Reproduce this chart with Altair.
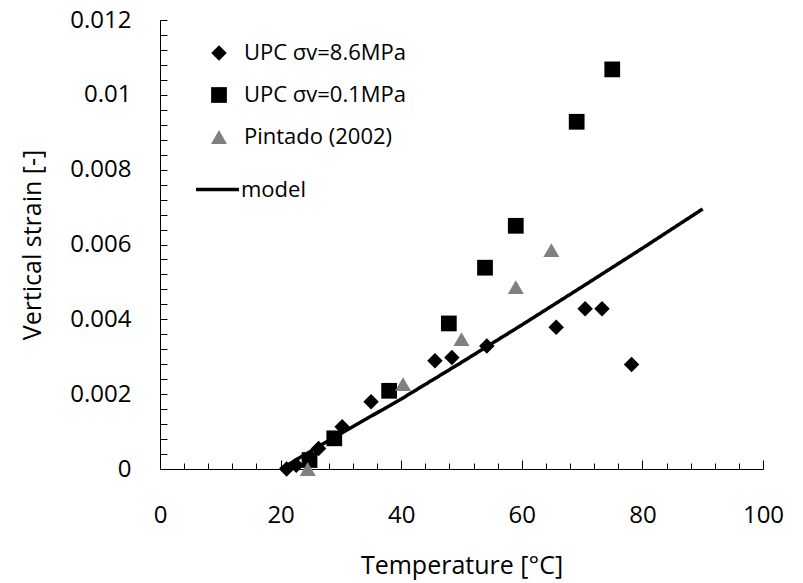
import altair as alt
import pandas as pd

# ---- data ----
diamond_T = [21.0, 22.6, 26.3, 30.2, 35.0, 45.6, 48.4, 54.2, 65.7, 70.5, 73.3, 78.2]
diamond_S = [0.0, 0.0001, 0.00055, 0.00113, 0.0018, 0.00289, 0.00298, 0.00329, 0.00379, 0.00428, 0.00428, 0.00279]

square_T = [24.8, 28.9, 38.0, 47.9, 53.9, 59.0, 69.1, 75.0]
square_S = [0.00024, 0.00082, 0.00209, 0.00389, 0.00538, 0.0065, 0.00928, 0.01068]

tri_T = [24.5, 40.3, 50.0, 59.0, 64.9]
tri_S = [0.0, 0.00227, 0.00347, 0.00486, 0.00585]

model_T = [20, 30, 40, 50, 60, 70, 80, 90]
model_S = [0.0, 0.00095, 0.00187, 0.00285, 0.00385, 0.00487, 0.0059, 0.00695]

series_names = ["UPC σv=8.6MPa", "UPC σv=0.1MPa", "Pintado (2002)"]
x_label_values = [0, 20, 40, 60, 80, 100]
y_label_values = [0, 0.002, 0.004, 0.006, 0.008, 0.01, 0.012]
x_tick_values = list(range(0, 101, 4))
y_tick_values = [round(0.0004 * i, 4) for i in range(31)]

rows = []
for name, ts, ss in zip(series_names, [diamond_T, square_T, tri_T], [diamond_S, square_S, tri_S]):
    for t, s in zip(ts, ss):
        rows.append({"T": t, "S": s, "series": name})
pts = pd.DataFrame(rows)
line_df = pd.DataFrame({"T": model_T, "S": model_S, "series": ["model"] * len(model_T)})

W, H = 603, 449
FONT = "Open Sans"

xscale = alt.Scale(domain=[0, 100], nice=False, zero=False)
yscale = alt.Scale(domain=[0, 0.012], nice=False, zero=False)

line = alt.Chart(line_df).mark_line(color="black", strokeWidth=3.5, clip=False).encode(
    x=alt.X("T:Q", scale=xscale, axis=alt.Axis(
        orient="top", offset=-H, values=x_tick_values, labels=False, title=None,
        grid=False, domain=True, domainColor="black", domainWidth=1,
        ticks=True, tickColor="black", tickWidth=1,
        tickSize={"condition": {"test": "datum.value % 20 === 0", "value": 9}, "value": 6})),
    y=alt.Y("S:Q", scale=yscale, axis=alt.Axis(
        orient="right", offset=-W, values=y_tick_values, labels=False, title=None,
        grid=False, domain=True, domainColor="black", domainWidth=1,
        ticks=True, tickColor="black", tickWidth=1, tickSize=7)),
    strokeDash=alt.StrokeDash("series:N", scale=alt.Scale(domain=["model"], range=[[1, 0]]),
        legend=alt.Legend(orient="none", legendX=34, legendY=146, title=None,
                          symbolType="stroke", symbolStrokeWidth=3.5, symbolStrokeColor="black",
                          symbolSize=1849, labelOffset=0, labelFont=FONT, labelFontSize=22,
                          labelColor="black", labelLimit=400, padding=0)),
)

legend_pts = alt.Legend(orient="none", legendX=48, legendY=22, title=None,
                        symbolSize=240, symbolStrokeWidth=0, labelOffset=14,
                        labelFont=FONT, labelFontSize=22, labelColor="black", labelLimit=400,
                        rowPadding=20, padding=0)

points = alt.Chart(pts).mark_point(filled=True, opacity=1, clip=False).encode(
    x=alt.X("T:Q", scale=xscale, axis=alt.Axis(
        values=x_label_values, ticks=False, tickSize=0, domain=False, grid=False,
        labelPadding=46, labelBaseline="middle", labelFont=FONT, labelFontSize=24,
        labelColor="black", format="d", labelFlush=False,
        title="Temperature [°C]", titleFont=FONT, titleFontSize=25, titleFontWeight="normal",
        titleColor="black", titleX=W / 2, titleY=96, titleBaseline="middle", titleAlign="center")),
    y=alt.Y("S:Q", scale=yscale, axis=alt.Axis(
        values=y_label_values, ticks=False, tickSize=0, domain=False, grid=False,
        labelPadding=29, labelFont=FONT, labelFontSize=24, labelColor="black", format="~g",
        labelFlush=False,
        title="Vertical strain [-]", titleFont=FONT, titleFontSize=25, titleFontWeight="normal",
        titleColor="black", titleX=-128, titleY=H / 2, titleAngle=-90,
        titleBaseline="middle", titleAlign="center")),
    shape=alt.Shape("series:N", scale=alt.Scale(domain=series_names, range=["diamond", "square", "triangle-up"]),
                    legend=legend_pts),
    color=alt.Color("series:N", scale=alt.Scale(domain=series_names, range=["black", "black", "#808080"]),
                    legend=legend_pts),
    size=alt.Size("series:N", scale=alt.Scale(domain=series_names, range=[240, 256, 300]), legend=None),
)

chart = alt.layer(line, points).resolve_axis(x="independent", y="independent").properties(
    width=W, height=H,
    autosize=alt.AutoSizeParams(type="none"),
    padding={"left": 160, "top": 20, "right": 40, "bottom": 114},
    background="white",
).configure_view(stroke=None)

chart.save("out.html", embed_options={"renderer": "svg", "actions": False})
